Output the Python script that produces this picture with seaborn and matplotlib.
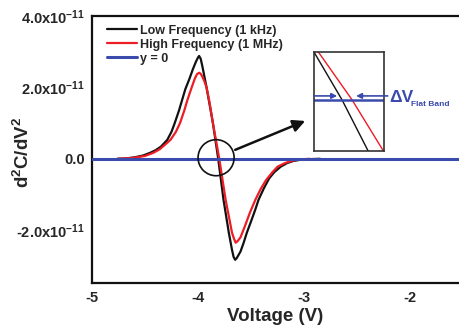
import numpy as np
import pandas as pd
import seaborn as sns
import matplotlib
matplotlib.use("Agg")
import matplotlib.pyplot as plt
from matplotlib.patches import Ellipse

# ---- data (d2C/dV2 in units of 1e-11) ----
volt_low = [-4.76, -4.68, -4.6, -4.52, -4.45, -4.4, -4.35, -4.29, -4.25, -4.22,
            -4.18, -4.15, -4.12, -4.08, -4.05, -4.02, -4.0, -3.99, -3.975, -3.96,
            -3.94, -3.92, -3.89, -3.86, -3.81, -3.76, -3.71, -3.68, -3.665, -3.65,
            -3.635, -3.6, -3.57, -3.54, -3.5, -3.46, -3.43, -3.38, -3.33, -3.28,
            -3.22, -3.16, -3.1, -3.02, -2.95, -2.85]
d2c_low = [0.0, 0.01, 0.04, 0.09, 0.17, 0.24, 0.34, 0.53, 0.76, 1.0,
           1.35, 1.65, 1.95, 2.25, 2.5, 2.72, 2.84, 2.88, 2.8, 2.6,
           2.3, 2.0, 1.5, 1.0, 0.0, -1.15, -2.07, -2.55, -2.75, -2.83,
           -2.78, -2.6, -2.35, -2.07, -1.75, -1.42, -1.15, -0.83, -0.55, -0.37,
           -0.22, -0.12, -0.06, -0.02, -0.01, 0.0]
volt_high = [-4.76, -4.68, -4.6, -4.5, -4.42, -4.36, -4.31, -4.26, -4.21, -4.17,
             -4.13, -4.10, -4.06, -4.03, -4.01, -3.99, -3.975, -3.96, -3.94, -3.92,
             -3.89, -3.86, -3.80, -3.74, -3.68, -3.66, -3.645, -3.625, -3.6, -3.56,
             -3.51, -3.46, -3.41, -3.36, -3.3, -3.25, -3.18, -3.12, -3.04, -2.95]
d2c_high = [0.0, 0.01, 0.03, 0.08, 0.17, 0.27, 0.4, 0.53, 0.75, 1.0,
            1.35, 1.65, 2.0, 2.25, 2.37, 2.41, 2.38, 2.3, 2.17, 2.0,
            1.55, 1.0, 0.0, -1.15, -2.07, -2.25, -2.35, -2.3, -2.2, -1.9,
            -1.5, -1.15, -0.85, -0.6, -0.38, -0.22, -0.12, -0.06, -0.02, 0.0]
series_names = ["Low Frequency (1 kHz)", "High Frequency (1 MHz)", "y = 0"]
xticks = [-5, -4, -3, -2]
xtick_labels = ["-5", "-4", "-3", "-2"]
yticks = [-2, 0, 2, 4]
ytick_labels = ["-2.0x10$^{-11}$", "0.0", "2.0x10$^{-11}$", "4.0x10$^{-11}$"]

sns.set_style("white")
plt.rcParams["font.family"] = ["Liberation Sans", "DejaVu Sans"]
plt.rcParams["font.weight"] = "bold"
plt.rcParams["mathtext.fontset"] = "custom"
plt.rcParams["mathtext.bf"] = "Liberation Sans:bold"
plt.rcParams["mathtext.rm"] = "Liberation Sans:bold"
plt.rcParams["mathtext.default"] = "bf"
plt.rcParams["axes.unicode_minus"] = False

BLACK = "#111111"
RED = "#ee1c24"
BLUE = "#3a4aad"

fig = plt.figure(figsize=(4.59, 3.25), dpi=100)
ax = fig.add_axes([0.2004, 0.1292, 0.7996, 0.8216])

df_low = pd.DataFrame({"V": volt_low, "d2C": d2c_low})
df_high = pd.DataFrame({"V": volt_high, "d2C": d2c_high})

sns.lineplot(data=df_low, x="V", y="d2C", ax=ax, color=BLACK, lw=1.6,
             label=series_names[0], sort=False, errorbar=None)
sns.lineplot(data=df_high, x="V", y="d2C", ax=ax, color=RED, lw=1.6,
             label=series_names[1], sort=False, errorbar=None)
ax.axhline(0, color=BLUE, lw=2.2, label=series_names[2], zorder=3)

ax.set_xlim(-5, -1.54)
ax.set_ylim(-3.48, 4.0)
ax.set_xticks(xticks)
ax.set_xticklabels(xtick_labels)
ax.set_xticks([-4.5, -3.5, -2.5], minor=True)
ax.set_yticks(yticks)
ax.set_yticklabels(ytick_labels)
ax.set_yticks([-3, -1, 1, 3], minor=True)
ax.tick_params(axis="both", which="major", direction="in", length=5, width=1.5,
               labelsize=10.5, color=BLACK)
ax.tick_params(axis="both", which="minor", direction="in", length=3, width=1.5,
               color=BLACK)
ax.tick_params(axis="y", which="major", pad=5)
ax.tick_params(axis="x", which="major", pad=6)
for lab in ax.get_xticklabels() + ax.get_yticklabels():
    lab.set_fontweight("bold")
for s in ["left", "bottom", "top"]:
    ax.spines[s].set_linewidth(1.6)
    ax.spines[s].set_color(BLACK)
ax.spines["right"].set_visible(False)
ax.set_xlabel("Voltage (V)", fontsize=13.5, fontweight="bold", labelpad=2)
ax.set_ylabel("d$^{2}$C/dV$^{2}$", fontsize=13.5, fontweight="bold")
ax.yaxis.set_label_coords(-0.161, 0.49)

leg = ax.legend(loc="upper left", bbox_to_anchor=(0.04, 0.967), frameon=False,
                fontsize=9, handlelength=2.4, handletextpad=0.25,
                labelspacing=0.15, borderpad=0, borderaxespad=0)
for t in leg.get_texts():
    t.set_fontweight("bold")

# circle around crossing and arrow to inset
ax.add_patch(Ellipse((-3.83, 0.03), 0.34, 1.01, fill=False, ec=BLACK, lw=1.2,
                     zorder=5))
ax.annotate("", xy=(-2.99, 1.06), xytext=(-3.65, 0.25),
            arrowprops=dict(arrowstyle="-|>", color=BLACK, lw=1.8,
                            mutation_scale=18, shrinkA=0, shrinkB=0))

# inset zoom on the flat-band crossing
axin = fig.add_axes([0.684, 0.535, 0.153, 0.305])
sns.lineplot(data=df_low, x="V", y="d2C", ax=axin, color=BLACK, lw=1.0,
             sort=False, errorbar=None, legend=False)
sns.lineplot(data=df_high, x="V", y="d2C", ax=axin, color=RED, lw=1.0,
             sort=False, errorbar=None, legend=False)
axin.axhline(0, color=BLUE, lw=1.8)
axin.set_xlim(-3.838, -3.768)
axin.set_ylim(-0.6, 0.56)
axin.set_xticks([])
axin.set_yticks([])
axin.set_xlabel("")
axin.set_ylabel("")
for s in axin.spines.values():
    s.set_linewidth(1.2)
    s.set_color("#333333")
    s.set_visible(True)
axin.annotate("", xy=(0.33, 0.557), xytext=(0.0, 0.557), xycoords="axes fraction",
              arrowprops=dict(arrowstyle="-|>", color=BLUE, lw=1.2,
                              mutation_scale=8, shrinkA=0, shrinkB=0),
              annotation_clip=False)
axin.annotate("", xy=(0.6, 0.557), xytext=(1.05, 0.557), xycoords="axes fraction",
              arrowprops=dict(arrowstyle="-|>", color=BLUE, lw=1.2,
                              mutation_scale=8, shrinkA=0, shrinkB=0),
              annotation_clip=False)
fig.text(0.848, 0.70, "ΔV", color=BLUE, fontsize=12.5, fontweight="bold",
         va="center", ha="left")
fig.text(0.896, 0.678, "Flat Band", color=BLUE, fontsize=6, fontweight="bold",
         va="center", ha="left")

fig.savefig("out.png", dpi=100)
